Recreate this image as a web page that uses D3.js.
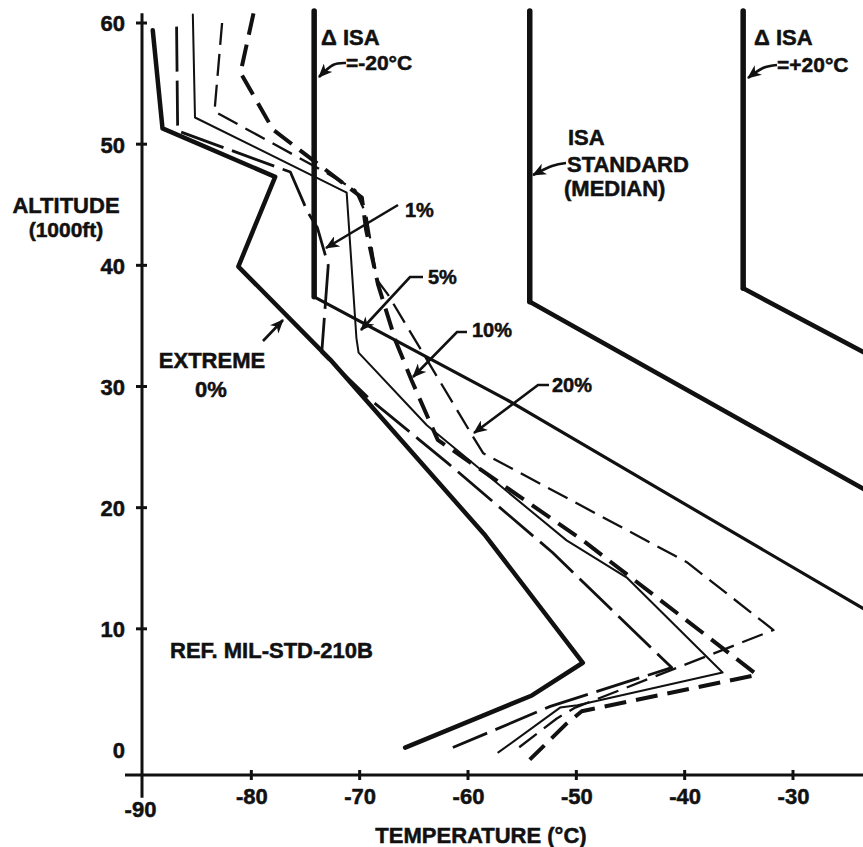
<!DOCTYPE html>
<html><head><meta charset="utf-8">
<script src="https://cdn.jsdelivr.net/npm/d3@7"></script>
<style>
body{margin:0;background:#fff}
text{font-family:"Liberation Sans",Arial,Helvetica,sans-serif;font-weight:bold;fill:#111;stroke:#111;stroke-width:0.5px}
</style>
</head><body><svg id="c" width="863" height="847"></svg>
<script>
// ---- data: [temperature °C, altitude 1000 ft] ----
const yTicks=[0,10,20,30,40,50,60];
const xTicks=[-90,-80,-70,-60,-50,-40,-30];
const extreme0=[[-89.1,59.4],[-88.2,51.3],[-77.8,47.3],[-81.2,39.9],[-72.7,32.2],[-58.4,17.7],[-49.4,7.2],[-54.1,4.5],[-65.8,0.2]];
const pct1=[[-86.9,59.7],[-86.8,51.1],[-76.4,47.7],[-74.8,44.4],[-73.9,43.1],[-72.9,40.0],[-73.5,32.8],[-69.0,28.9],[-61.9,23.7],[-52.2,16.3],[-41.2,6.8],[-52.4,3.6],[-61.4,0.2]];
const pct5=[[-85.4,60.7],[-85.2,52.2],[-71.2,46.0],[-70.3,34.0],[-70.1,32.8],[-63.8,26.8],[-50.9,17.3],[-45.3,14.2],[-36.5,6.4],[-49.9,3.7],[-51.5,3.5],[-57.2,-0.2]];
const pct10=[[-79.8,60.8],[-81.0,55.9],[-78.0,51.2],[-69.8,45.6],[-69.4,42.9],[-68.3,38.4],[-66.7,33.8],[-65.2,30.5],[-62.8,25.6],[-49.4,17.3],[-33.3,6.2],[-49.5,3.2],[-51.0,2.1],[-54.3,-0.8]];
const pct20=[[-82.7,60.0],[-83.4,52.7],[-73.0,47.6],[-70.4,46.2],[-69.4,44.2],[-68.4,38.8],[-67.4,37.6],[-59.5,25.8],[-58.6,24.5],[-39.8,15.5],[-31.8,9.9],[-50.1,3.5],[-51.8,2.6],[-55.9,-0.2]];
const isaMinus20=[[-74.2,61.0],[-74.2,37.4],[-56.4,28.9],[-23.0,11.4]];
const isaStandard=[[-54.3,61.0],[-54.3,37.0],[-23.0,21.3]];
const isaPlus20=[[-34.6,61.0],[-34.6,38.1],[-23.0,32.6]];

const svg=d3.select("#c");
const x=d3.scaleLinear().domain([-90,-30]).range([143,793]);
const y=d3.scaleLinear().domain([0,60]).range([750,23]);
const line=d3.line().x(d=>x(d[0])).y(d=>y(d[1]));

svg.append("rect").attr("width",863).attr("height",847).attr("fill","#fff");
svg.append("defs").append("clipPath").attr("id","clip").append("rect")
  .attr("x",143).attr("y",0).attr("width",720).attr("height",847);
svg.select("defs").append("marker").attr("id","ah").attr("viewBox","0 0 14 12")
  .attr("refX",13).attr("refY",6).attr("markerWidth",14).attr("markerHeight",12)
  .attr("markerUnits","userSpaceOnUse").attr("orient","auto")
  .append("path").attr("d","M0,0 L14,6 L0,12 L4,6 Z").attr("fill","#111");

// axes
const yAx=svg.append("g").attr("transform","translate(142,0)")
  .call(d3.axisLeft(y).tickValues(yTicks).tickSize(0).tickPadding(17).tickFormat(d=>String(d)));
yAx.select(".domain").remove();
yAx.selectAll("text").style("font-size","22px").attr("dy","0.36em");
svg.append("line").attr("x1",142).attr("x2",142).attr("y1",y(60.8)).attr("y2",y(-3.95))
  .attr("stroke","#111").attr("stroke-width",3);
svg.selectAll(".ytm").data(yTicks.filter(d=>d>0)).enter().append("line")
  .attr("x1",136).attr("x2",147).attr("y1",d=>y(d)).attr("y2",d=>y(d))
  .attr("stroke","#111").attr("stroke-width",3);

const xAx=svg.append("g").attr("transform","translate(0,775)")
  .call(d3.axisBottom(x).tickValues(xTicks).tickSize(0).tickPadding(13).tickFormat(d=>String(d)));
xAx.select(".domain").remove();
xAx.selectAll("text").style("font-size","22px")
  .attr("transform",d=>d===-90?"translate(-3,13)":null);
svg.append("line").attr("x1",125).attr("x2",863).attr("y1",775).attr("y2",775)
  .attr("stroke","#111").attr("stroke-width",3);
svg.selectAll(".xtm").data(xTicks.filter(d=>d>-90)).enter().append("line")
  .attr("x1",d=>x(d)).attr("x2",d=>x(d)).attr("y1",770).attr("y2",780)
  .attr("stroke","#111").attr("stroke-width",3);

// ISA lines
const g=svg.append("g").attr("clip-path","url(#clip)");
function draw(data,w,dash){
  g.append("path").attr("d",line(data)).attr("fill","none").attr("stroke","#111")
   .attr("stroke-width",w).attr("stroke-dasharray",dash||null)
   .attr("stroke-linejoin","round").attr("stroke-linecap",dash?"butt":"round");
}
draw(isaMinus20.slice(0,2),5.5);
draw(isaMinus20.slice(1),3.2);
draw(isaStandard.slice(0,2),5.5);
draw(isaStandard.slice(1),4.5);
draw(isaPlus20.slice(0,2),5.5);
draw(isaPlus20.slice(1),4.5);

// percentile profiles
draw(pct20,2.3,"22,9");
draw(pct10,4,"22,10");
draw(pct5,2);
draw(pct1,2.8,"45,9");
draw(extreme0,4.5);

// text
function txt(s,xx,yy,size,anchor){
  return svg.append("text").attr("x",xx).attr("y",yy).style("font-size",size+"px")
    .attr("text-anchor",anchor||"start").text(s);
}
txt("ALTITUDE",66,213,22,"middle");
txt("(1000ft)",66,237,21,"middle");
txt("EXTREME",212,368,22,"middle");
txt("0%",211,397,22,"middle");
txt("REF. MIL-STD-210B",170,658,22);
txt("TEMPERATURE (°C)",481,843,22,"middle");
txt("Δ ISA",321,45,22);
txt("=-20°C",346,70,21);
txt("ISA",568,145,22);
txt("STANDARD",567,172,22);
txt("(MEDIAN)",564,196,22);
txt("Δ ISA",754,45,22);
txt("=+20°C",777,72,21);
txt("1%",405,217,20);
txt("5%",428,284,20);
txt("10%",472,337,20);
txt("20%",552,392,20);

// arrows (pixel-space leader lines)
const arrows=[
  {p:[[263,341],[283,320]],c:d3.curveLinear},
  {p:[[346,63],[333,65],[319,77]],c:d3.curveNatural},
  {p:[[566,163],[552,166],[533,175]],c:d3.curveNatural},
  {p:[[777,65],[763,68],[748,78]],c:d3.curveNatural},
  {p:[[398,205],[326,248]],c:d3.curveLinear},
  {p:[[423,277],[410,277],[361,330]],c:d3.curveLinear},
  {p:[[467,332],[457,332],[413,377]],c:d3.curveLinear},
  {p:[[549,385],[538,385],[474,433]],c:d3.curveLinear}
];
arrows.forEach(a=>{
  svg.append("path").attr("d",d3.line().curve(a.c)(a.p)).attr("fill","none")
    .attr("stroke","#111").attr("stroke-width",2.6).attr("marker-end","url(#ah)");
});
</script></body></html>
